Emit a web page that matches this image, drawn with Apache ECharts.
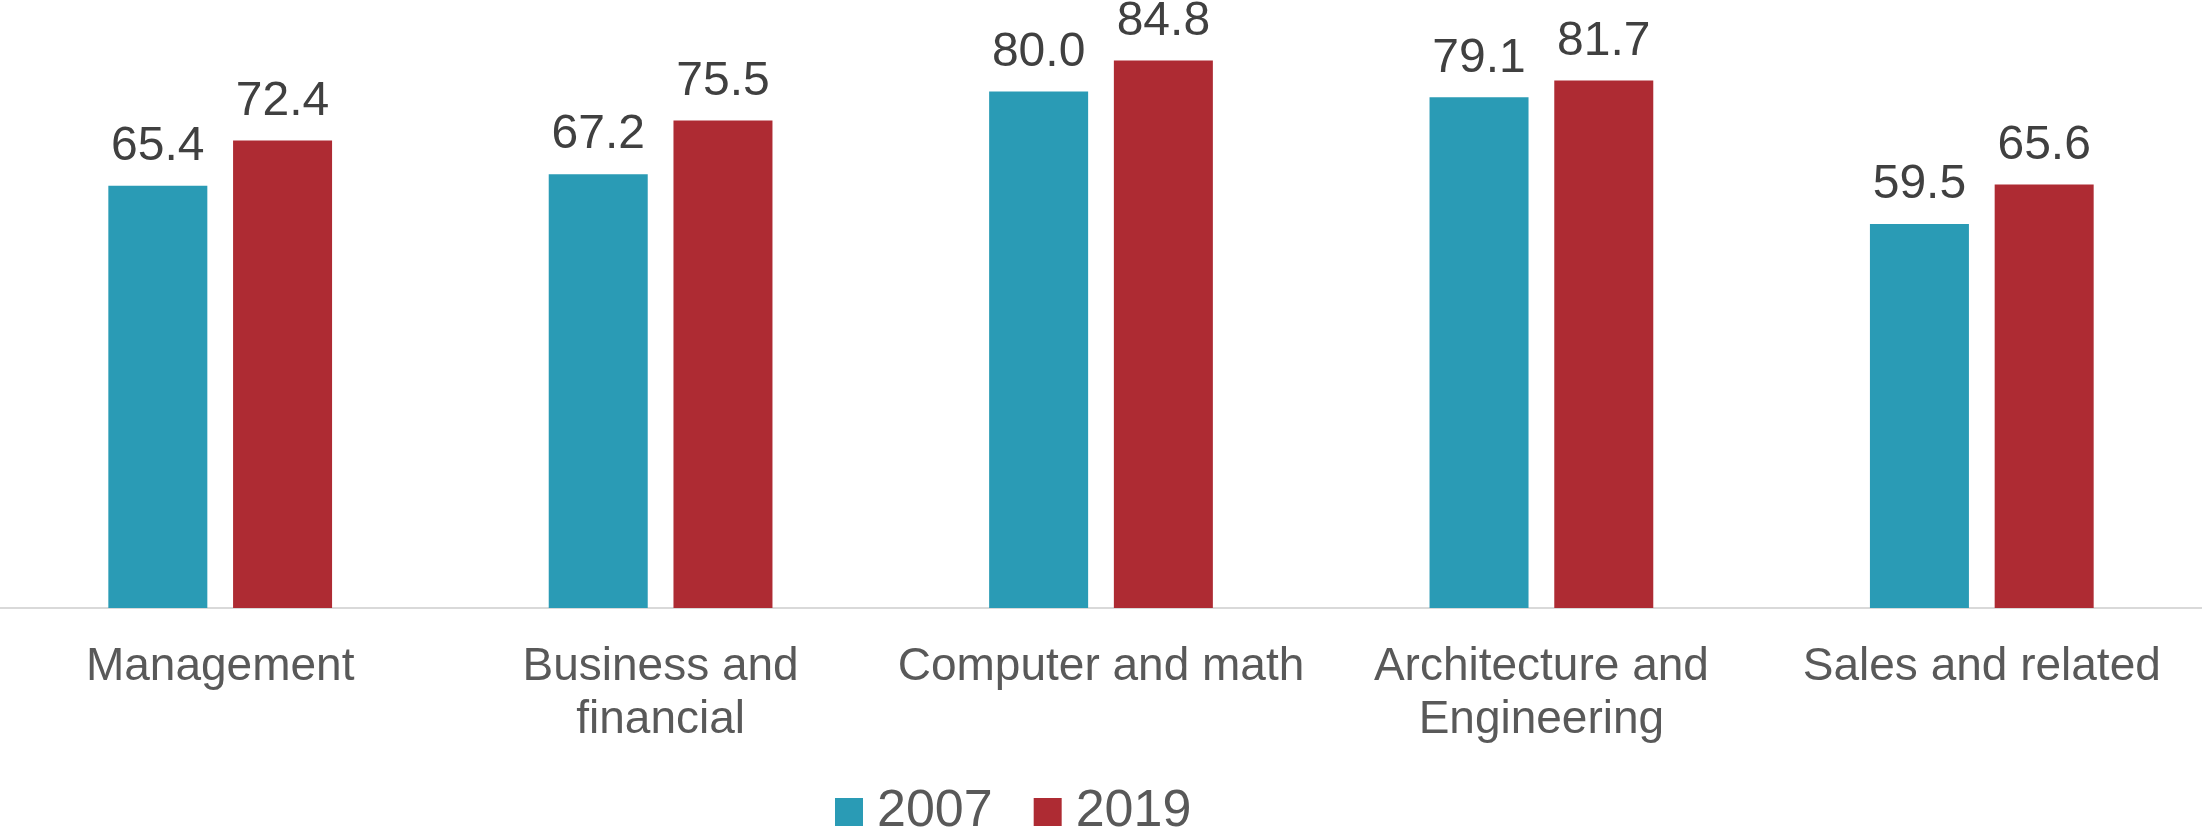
<!DOCTYPE html>
<html>
<head>
<meta charset="utf-8">
<script src="https://cdn.jsdelivr.net/npm/echarts@6/dist/echarts.min.js"></script>
<style>
  html, body { margin: 0; padding: 0; background: #ffffff; }
  #chart { width: 2202px; height: 828px; }
</style>
</head>
<body>
<div id="chart"></div>
<script>
// Occupation groups and share values for each year
const categories = [
  'Management',
  'Business and\nfinancial',
  'Computer and math',
  'Architecture and\nEngineering',
  'Sales and related'
];
const years = ['2007', '2019'];
const values2007 = [65.4, 67.2, 80.0, 79.1, 59.5];
const values2019 = [72.4, 75.5, 84.8, 81.7, 65.6];

const colors = ['#2A9BB5', '#AE2B33'];
const fontFamily = '"Liberation Sans", Arial, sans-serif';

const valueLabel = {
  show: true,
  position: 'top',
  distance: 15,
  color: '#404040',
  fontFamily: fontFamily,
  fontSize: 48,
  lineHeight: 48,
  formatter: p => Number(p.value).toFixed(1)
};

const chart = echarts.init(document.getElementById('chart'), null, { renderer: 'canvas' });
chart.setOption({
  animation: false,
  backgroundColor: '#ffffff',
  color: colors,
  grid: { left: 0, right: 0, top: 27, bottom: 220, containLabel: false },
  legend: {
    data: years,
    left: 830,
    top: 781,
    itemWidth: 28,
    itemHeight: 28,
    itemGap: 41,
    icon: 'rect',
    textStyle: {
      color: '#595959',
      fontFamily: fontFamily,
      fontSize: 52,
      lineHeight: 52,
      padding: [0, 0, 0, 9]
    }
  },
  xAxis: {
    type: 'category',
    data: categories,
    axisTick: { show: false },
    axisLine: { show: true, lineStyle: { color: '#D9D9D9', width: 2 } },
    axisLabel: {
      interval: 0,
      margin: 33,
      color: '#595959',
      fontFamily: fontFamily,
      fontSize: 46,
      lineHeight: 53
    }
  },
  yAxis: {
    type: 'value',
    min: 0,
    max: 90,
    show: false,
    splitLine: { show: false }
  },
  series: [
    {
      name: years[0],
      type: 'bar',
      data: values2007,
      barWidth: 99,
      barGap: '26%',
      label: valueLabel
    },
    {
      name: years[1],
      type: 'bar',
      data: values2019,
      barWidth: 99,
      barGap: '26%',
      label: valueLabel
    }
  ]
});
</script>
</body>
</html>
